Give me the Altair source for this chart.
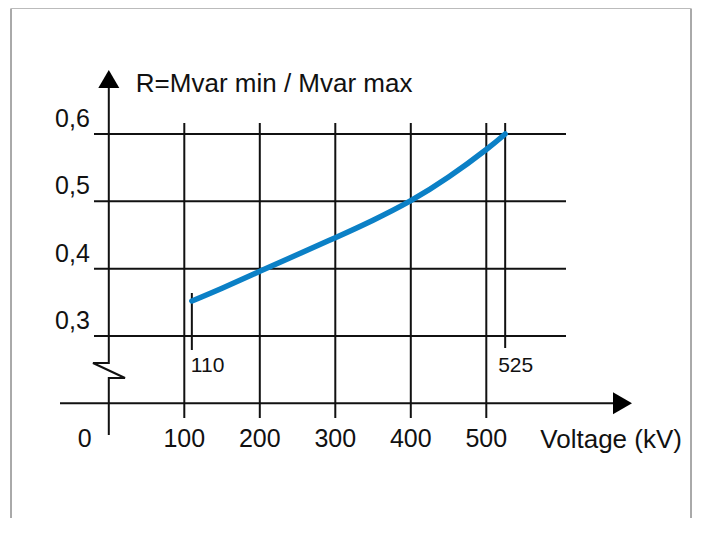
import altair as alt
import pandas as pd

# ---- data ----
voltage = [110, 150, 200, 250, 300, 350, 400, 450, 500, 525]
ratio = [0.352, 0.371, 0.396, 0.421, 0.446, 0.472, 0.501, 0.536, 0.577, 0.600]
y_ticks = [0.3, 0.4, 0.5, 0.6]
y_labels = ["0,3", "0,4", "0,5", "0,6"]
x_ticks = [100, 200, 300, 400, 500]
x_labels = ["100", "200", "300", "400", "500"]
marker_values = [110, 525]
marker_labels = ["110", "525"]
title_text = "R=Mvar min / Mvar max"
xname_text = "Voltage (kV)"

# ---- layout (page pixel mapping) ----
W, H = 684, 510
X0, KX = 108.8, 0.755
Y06, KY = 134.0, 673.3
def vx(px):
    return (px - X0) / KX
def ry(py):
    return 0.6 - (py - Y06) / KY

xs = alt.Scale(domain=[vx(8), vx(8 + W)], nice=False, zero=False)
ys = alt.Scale(domain=[ry(8 + H), ry(8)], nice=False, zero=False)
FONT = "Liberation Sans"
AXIS_Y = 0.2  # value where the (broken) horizontal axis sits


def rules(df, color="#111111", width=2.0):
    return alt.Chart(df).mark_rule(color=color, strokeWidth=width).encode(
        x=alt.X("x1:Q", scale=xs, axis=None), x2="x2:Q",
        y=alt.Y("y1:Q", scale=ys, axis=None), y2="y2:Q")


# frame
frame = pd.DataFrame({
    "x1": [vx(11), vx(691)], "x2": [vx(11), vx(691)],
    "y1": [ry(8.5), ry(8.5)], "y2": [ry(8 + H), ry(8 + H)]})
frame_top = pd.DataFrame({"x1": [vx(11)], "x2": [vx(691)], "y1": [ry(8.5)], "y2": [ry(8.5)]})

# grid
hgrid = pd.DataFrame({"x1": [vx(94)] * len(y_ticks), "x2": [vx(566)] * len(y_ticks),
                      "y1": y_ticks, "y2": y_ticks})
vgrid = pd.DataFrame({"x1": x_ticks, "x2": x_ticks,
                      "y1": [ry(123)] * len(x_ticks), "y2": [ry(418)] * len(x_ticks)})
# markers for 110 / 525
mk = pd.DataFrame({"x1": marker_values, "x2": marker_values,
                   "y1": [ry(293), ry(123)], "y2": [ry(350), ry(348)]})
# x axis
xaxis = pd.DataFrame({"x1": [vx(60)], "x2": [vx(618)], "y1": [AXIS_Y], "y2": [AXIS_Y]})

# y axis with break symbol
yaxis = pd.DataFrame({
    "x": [0, 0, vx(93) - vx(X0), vx(125) - vx(X0), 0, 0],
    "y": [ry(85), ry(363), ry(363), ry(378), ry(378), ry(435)],
    "o": [0, 1, 2, 3, 4, 5]})
yaxis_layer = alt.Chart(yaxis).mark_line(color="#111111", strokeWidth=2, strokeJoin="miter").encode(
    x=alt.X("x:Q", scale=xs, axis=None), y=alt.Y("y:Q", scale=ys, axis=None), order="o:Q")

# arrows
arr_up = alt.Chart(pd.DataFrame({"x": [0], "y": [ry(79)]})).mark_point(
    shape="triangle-up", filled=True, size=441, color="black", opacity=1, strokeWidth=0).encode(
    x=alt.X("x:Q", scale=xs, axis=None), y=alt.Y("y:Q", scale=ys, axis=None))
arr_right = alt.Chart(pd.DataFrame({"x": [vx(622.5)], "y": [AXIS_Y]})).mark_point(
    shape="triangle-right", filled=True, size=484, color="black", opacity=1, strokeWidth=0).encode(
    x=alt.X("x:Q", scale=xs, axis=None), y=alt.Y("y:Q", scale=ys, axis=None))

# curve
curve = alt.Chart(pd.DataFrame({"v": voltage, "r": ratio})).mark_line(
    color="#0b80c6", strokeWidth=5.5, strokeCap="round", interpolate="natural").encode(
    x=alt.X("v:Q", scale=xs, axis=None), y=alt.Y("r:Q", scale=ys, axis=None))


def texts(df, **kw):
    return alt.Chart(df).mark_text(font=FONT, color="#111111", baseline="alphabetic", **kw).encode(
        x=alt.X("x:Q", scale=xs, axis=None), y=alt.Y("y:Q", scale=ys, axis=None), text="t:N")


ylab = texts(pd.DataFrame({"x": [0] * 4, "y": y_ticks, "t": y_labels}),
             align="right", dx=-19, dy=-7, fontSize=25)
xlab = texts(pd.DataFrame({"x": x_ticks, "y": [AXIS_Y] * 5, "t": x_labels}),
             align="center", dy=44, fontSize=25)
zlab = texts(pd.DataFrame({"x": [0], "y": [AXIS_Y], "t": ["0"]}),
             align="center", dx=-24, dy=44, fontSize=25)
tlab = texts(pd.DataFrame({"x": [0], "y": [0.6], "t": [title_text]}),
             align="left", dx=27, dy=-42, fontSize=26)
nlab = texts(pd.DataFrame({"x": [500], "y": [AXIS_Y], "t": [xname_text]}),
             align="left", dx=54, dy=45, fontSize=26)
m1 = texts(pd.DataFrame({"x": [marker_values[0]], "y": [0.3], "t": [marker_labels[0]]}),
           align="left", dx=-1, dy=36, fontSize=21)
m2 = texts(pd.DataFrame({"x": [marker_values[1]], "y": [0.3], "t": [marker_labels[1]]}),
           align="left", dx=-7, dy=36, fontSize=21)

chart = alt.layer(
    rules(frame, color="#555555", width=1),
    rules(frame_top, color="#bbbbbb", width=1),
    rules(hgrid), rules(vgrid), rules(mk), rules(xaxis),
    yaxis_layer, arr_up, arr_right,
    ylab, xlab, zlab, tlab, nlab, m1, m2,
    curve,
).properties(
    width=W, height=H, padding=0, background="white",
    autosize=alt.AutoSizeParams(type="none"),
).configure_view(stroke=None)

chart.save("out.html", embed_options={"renderer": "svg", "actions": False})
